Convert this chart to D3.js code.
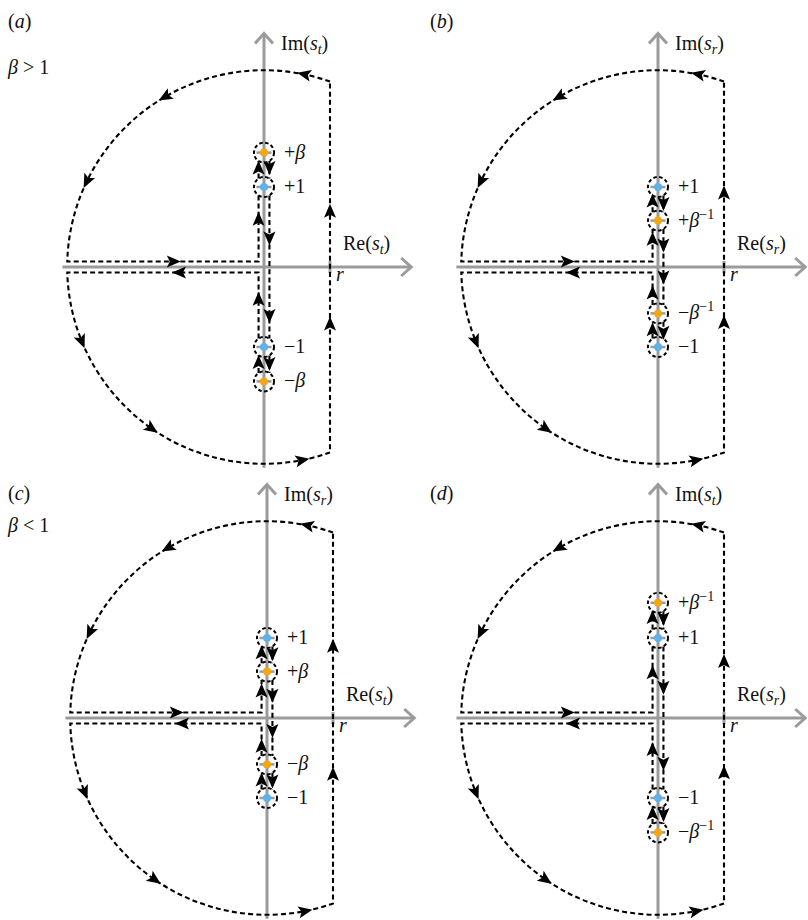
<!DOCTYPE html>
<html>
<head>
<meta charset="utf-8">
<script src="https://cdn.jsdelivr.net/npm/d3@7"></script>
<style>
    body { margin: 0; background: #fff; }
    svg text { font-family: 'Liberation Serif', 'DejaVu Serif', serif; font-size: 20px; fill: #111; }
</style>
</head>
<body>
<div id="wrapper"></div>
<script>
// 1. Data (imaginary-axis values in units where the unit pole sits at 1)
const panelLetters = ['a', 'b', 'c', 'd'];
const regimeLabels = ['β > 1', '', 'β < 1', ''];
const imSubscripts = ['t', 'r', 'r', 't'];
const reSubscripts = ['t', 'r', 't', 'r'];
const poleValues = [
    [1.43, 1, -1, -1.43],
    [1, 0.58, -0.58, -1],
    [1, 0.58, -0.58, -1],
    [1.44, 1, -1, -1.43]
];
const poleLabels = [
    ['+β', '+1', '−1', '−β'],
    ['+1', '+β^−1', '−β^−1', '−1'],
    ['+1', '+β', '−β', '−1'],
    ['+β^−1', '+1', '−1', '−β^−1']
];
const contourRadius = 2.46;
const tickValue = 0.825;
// arrow positions along the contour
const arcArrowDeg = [78, 120, 154, 202, 235, 281];
const rightLineArrows = [[0.69, -0.72], [0.92, -0.7], [0.89, -0.71], [0.7, -0.69]];
const upArrows = [
    [1.23, 0.59, -0.41, -1.2],
    [0.82, 0.34, -0.33, -0.79],
    [0.81, 0.33, -0.36, -0.78],
    [1.25, 0.56, -0.4, -1.2]
];
const downArrows = [
    [1.25, 0.37, -0.6, -1.2],
    [0.8, 0.28, -0.12, -0.81],
    [0.81, 0.29, -0.15, -0.78],
    [1.25, 0.39, -0.56, -1.2]
];
const slitArrows = [-1.14, -1.05];

// 2. Layout
const dimensions = {
    width: 808,
    height: 920,
    unit: 80,
    origins: [[264, 267], [658, 267], [267, 718], [658, 718]],
    letterPos: [[8, 28], [430, 28], [8, 500], [430, 500]],
    regimePos: [[8, 74], null, [8, 532], null]
};
const axisColor = '#9b9b9b';
const orange = '#f5a712';
const blue = '#5cb2ec';
const gap = 0.068;      // half width of the slit
const loopRadius = 0.125;

const wrapper = d3.select('#wrapper')
    .append('svg')
    .attr('width', dimensions.width)
    .attr('height', dimensions.height)
    .attr('font-family', 'Liberation Serif, DejaVu Serif, serif');

const arrowShape = 'M8,0 L-6,-6 L-3,0 L-6,6 Z';

function addArrow(group, px, py, rot) {
    group.append('path')
        .attr('d', arrowShape)
        .attr('fill', '#000')
        .attr('transform', `translate(${px},${py}) rotate(${rot})`);
}

function addMathLabel(group, px, py, label) {
    // "+β^−1" style labels: β italic, part after ^ as superscript
    const t = group.append('text').attr('x', px).attr('y', py);
    const [base, sup] = label.split('^');
    for (const ch of base) {
        t.append('tspan').text(ch).style('font-style', ch === 'β' ? 'italic' : 'normal');
    }
    if (sup) {
        t.append('tspan').text(sup).attr('dy', -8).style('font-size', '14px');
    }
}

function addAxisLabel(group, px, py, name, sub) {
    const t = group.append('text').attr('x', px).attr('y', py);
    t.append('tspan').text(name + '(');
    t.append('tspan').text('s').style('font-style', 'italic');
    t.append('tspan').text(sub).style('font-style', 'italic')
        .style('font-size', '14px').attr('dy', 4);
    t.append('tspan').text(')').attr('dy', -4);
}

function drawPanel(i) {
    const [ox, oy] = dimensions.origins[i];
    const u = dimensions.unit;
    const x = d3.scaleLinear().domain([0, 1]).range([ox, ox + u]);
    const y = d3.scaleLinear().domain([0, 1]).range([oy, oy - u]);
    const bounds = wrapper.append('g');
    const poles = poleValues[i];
    const R = contourRadius;

    // axes
    const reTip = [x(1.84), y(0)];
    const imTip = [x(0), y(2.92)];
    bounds.append('line')
        .attr('x1', x(-2.52)).attr('x2', reTip[0] - 1)
        .attr('y1', y(0)).attr('y2', y(0))
        .attr('stroke', axisColor).attr('stroke-width', 3);
    bounds.append('line')
        .attr('x1', x(0)).attr('x2', x(0))
        .attr('y1', y(-2.51)).attr('y2', imTip[1] + 1)
        .attr('stroke', axisColor).attr('stroke-width', 3);
    bounds.append('path')
        .attr('d', `M${reTip[0] - 10},${reTip[1] - 9} L${reTip[0]},${reTip[1]} L${reTip[0] - 10},${reTip[1] + 9}`)
        .attr('fill', 'none').attr('stroke', axisColor).attr('stroke-width', 3);
    bounds.append('path')
        .attr('d', `M${imTip[0] - 9},${imTip[1] + 10} L${imTip[0]},${imTip[1]} L${imTip[0] + 9},${imTip[1] + 10}`)
        .attr('fill', 'none').attr('stroke', axisColor).attr('stroke-width', 3);
    bounds.append('line')
        .attr('x1', x(tickValue)).attr('x2', x(tickValue))
        .attr('y1', y(0) - 6).attr('y2', y(0) + 6)
        .attr('stroke', axisColor).attr('stroke-width', 3);

    // pole ticks
    bounds.selectAll('.poletick')
        .data(poles).join('line')
        .attr('x1', x(0) - 7.5).attr('x2', x(0) + 7.5)
        .attr('y1', d => y(d)).attr('y2', d => y(d))
        .attr('stroke', axisColor).attr('stroke-width', 2.5);

    // contour
    const theta0 = Math.acos(tickValue / R);
    const a = Math.asin(gap / R);
    const dy = Math.sqrt(loopRadius * loopRadius - gap * gap);
    const [p1, p2, p3, p4] = poles;
    const p = d3.path();
    p.moveTo(x(tickValue), y(Math.sqrt(R * R - tickValue * tickValue)));
    p.arc(x(0), y(0), R * u, -theta0, -(Math.PI - a), true);
    p.lineTo(x(-gap), y(gap));
    p.lineTo(x(-gap), y(p2 - dy));
    p.moveTo(x(-gap), y(p2 + dy));
    p.lineTo(x(-gap), y(p1 - dy));
    p.moveTo(x(gap), y(p1 - dy));
    p.lineTo(x(gap), y(p2 + dy));
    p.moveTo(x(gap), y(p2 - dy));
    p.lineTo(x(gap), y(p3 + dy));
    p.moveTo(x(gap), y(p3 - dy));
    p.lineTo(x(gap), y(p4 + dy));
    p.moveTo(x(-gap), y(p4 + dy));
    p.lineTo(x(-gap), y(p3 - dy));
    p.moveTo(x(-gap), y(p3 + dy));
    p.lineTo(x(-gap), y(-gap));
    p.lineTo(x(-Math.sqrt(R * R - gap * gap)), y(-gap));
    p.arc(x(0), y(0), R * u, -(Math.PI + a), -(2 * Math.PI - theta0), true);
    p.lineTo(x(tickValue), y(Math.sqrt(R * R - tickValue * tickValue)));
    bounds.append('path')
        .attr('d', p.toString())
        .attr('fill', 'none')
        .attr('stroke', '#000')
        .attr('stroke-width', 2.1)
        .attr('stroke-dasharray', '5,3.2');

    // small loops around poles
    bounds.selectAll('.loop')
        .data(poles).join('circle')
        .attr('cx', x(0)).attr('cy', d => y(d))
        .attr('r', loopRadius * u)
        .attr('fill', 'none').attr('stroke', '#000')
        .attr('stroke-width', 2).attr('stroke-dasharray', '3.5,2.5');

    // pole dots
    bounds.selectAll('.pole')
        .data(poles).join('circle')
        .attr('cx', x(0)).attr('cy', d => y(d))
        .attr('r', 4)
        .attr('fill', (d, j) => poleLabels[i][j].includes('β') ? orange : blue);

    // arrows
    arcArrowDeg.forEach(deg => {
        const phi = deg * Math.PI / 180;
        addArrow(bounds, x(R * Math.cos(phi)), y(R * Math.sin(phi)), -(deg + 90));
    });
    rightLineArrows[i].forEach(v => addArrow(bounds, x(tickValue), y(v), -90));
    upArrows[i].forEach(v => addArrow(bounds, x(-gap), y(v), -90));
    downArrows[i].forEach(v => addArrow(bounds, x(gap), y(v), 90));
    addArrow(bounds, x(slitArrows[0]), y(gap), 0);
    addArrow(bounds, x(slitArrows[1]), y(-gap), 180);

    // labels
    poles.forEach((v, j) => addMathLabel(bounds, x(0) + 20, y(v) + 6, poleLabels[i][j]));
    addAxisLabel(bounds, x(0) + 17, y(0) - 217, 'Im', imSubscripts[i]);
    addAxisLabel(bounds, x(0) + 79, y(0) - 17, 'Re', reSubscripts[i]);
    bounds.append('text')
        .attr('x', x(tickValue) + 6).attr('y', y(0) + 14)
        .style('font-style', 'italic').text('r');

    const [lx, ly] = dimensions.letterPos[i];
    const letter = bounds.append('text').attr('x', lx).attr('y', ly);
    letter.append('tspan').text('(');
    letter.append('tspan').text(panelLetters[i]).style('font-style', 'italic');
    letter.append('tspan').text(')');
    if (regimeLabels[i]) {
        const [rx, ry] = dimensions.regimePos[i];
        addMathLabel(bounds, rx, ry, regimeLabels[i]);
    }
}

panelLetters.forEach((d, i) => drawPanel(i));
</script>
</body>
</html>
